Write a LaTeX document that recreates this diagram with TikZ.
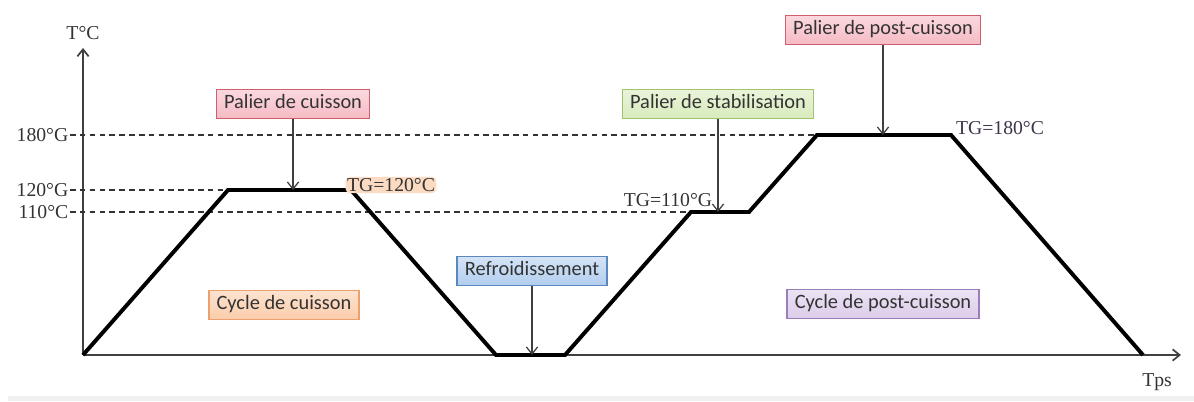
\documentclass[tikz,border=0pt]{standalone}
\usepackage{fontspec}
\setmainfont{Liberation Serif}
\newfontfamily\boxfont{Carlito}
\usetikzlibrary{positioning, arrows.meta}
\definecolor{pinkline}{RGB}{205,95,110}
\definecolor{pinkfill}{RGB}{246,186,196}
\definecolor{orangeline}{RGB}{235,160,110}
\definecolor{orangefill}{RGB}{251,204,170}
\definecolor{blueline}{RGB}{90,135,190}
\definecolor{bluefill}{RGB}{178,206,238}
\definecolor{greenline}{RGB}{160,195,110}
\definecolor{greenfill}{RGB}{216,235,188}
\definecolor{purpleline}{RGB}{155,125,185}
\definecolor{purplefill}{RGB}{220,204,234}
\tikzset{>={Straight Barb[length=5pt, width=8pt]},
  phase/.style={rectangle, draw, line width=1pt, inner xsep=5.5pt, inner ysep=4pt,
    text height=10pt, text depth=3pt, text=black!80,
    font=\boxfont\fontsize{14.5}{16}\selectfont},
  pinkbox/.style={phase, draw=pinkline, top color=pinkfill!55, bottom color=pinkfill},
  orangebox/.style={phase, draw=orangeline, top color=orangefill!55, bottom color=orangefill},
  bluebox/.style={phase, draw=blueline, top color=bluefill!55, bottom color=bluefill},
  greenbox/.style={phase, draw=greenline, top color=greenfill!55, bottom color=greenfill},
  purplebox/.style={phase, draw=purpleline, top color=purplefill!55, bottom color=purplefill},
  temp/.style={inner sep=1pt, font=\fontsize{14}{16}\selectfont, text=black!80},
  pointer/.style={->, draw=black!75, line width=0.9pt},
  level/.style={draw=black!80, line width=0.8pt, dash pattern=on 4pt off 3pt},
  profile/.style={line width=2.8pt, line join=miter}}

\begin{document}
\begin{tikzpicture}[x=0.025cm, y=-0.025cm]
    \useasboundingbox (0,0) rectangle (1194,401);
    \fill[gray!12] (8,396) rectangle (1194,401);

    % axes
    \coordinate (o) at (83,355);
    \coordinate (ytop) at (83,48);
    \coordinate (xend) at (1181,355);
    \node[temp] (tc) at (83,33) {T°C};
    \node[temp] (tps) at (1157,382) {Tps};
    \draw[->, draw=black!75, line width=1.2pt] (o) -- (ytop);
    \draw[->, draw=black!75, line width=1.2pt] (o) -- (xend);

    % profile
    \coordinate (p1) at (228,190);
    \coordinate (p2) at (351,190);
    \coordinate (p3) at (496,355);
    \coordinate (p4) at (565,355);
    \coordinate (p5) at (691,212);
    \coordinate (p6) at (749,212);
    \coordinate (p7) at (817,135);
    \coordinate (p8) at (951,135);
    \coordinate (p9) at (1143,355);

    % levels
    \node[temp, anchor=east] (t180) at (70,135) {180°G};
    \node[temp, anchor=east] (t120) at (70,190) {120°G};
    \node[temp, anchor=east] (t110) at (70,212) {110°C};
    \draw[level] (t180) -- (p7);
    \draw[level] (t120) -- (p1);
    \draw[level] (t110) -- (p5);

    \draw[profile] (o) -- (p1) -- (p2) -- (p3) -- (p4) -- (p5) -- (p6) -- (p7) -- (p8) -- (p9);

    \node[temp, fill=orangefill!70, rounded corners=3pt] (tg120) at (391,185) {TG=120°C};
    \node[temp] (tg110) at (668,200) {TG=110°G};
    \node[temp, text=black!60!purpleline] (tg180) at (1000,128) {TG=180°C};

    % phases
    \node[pinkbox] (pcuis) at (293,104) {Palier de cuisson};
    \node[orangebox] (ccuis) at (284,305) {Cycle de cuisson};
    \node[bluebox] (refr) at (532,271) {Refroidissement};
    \node[greenbox] (pstab) at (718,104) {Palier de stabilisation};
    \node[pinkbox] (ppost) at (883,30) {Palier de post-cuisson};
    \node[purplebox] (cpost) at (883,304) {Cycle de post-cuisson};

    \coordinate (a1) at (293,190);
    \coordinate (a2) at (532,355);
    \coordinate (a3) at (718,212);
    \coordinate (a4) at (883,135);
    \draw[pointer] (pcuis) -- (a1);
    \draw[pointer] (refr) -- (a2);
    \draw[pointer] (pstab) -- (a3);
    \draw[pointer] (ppost) -- (a4);
\end{tikzpicture}
\end{document}
